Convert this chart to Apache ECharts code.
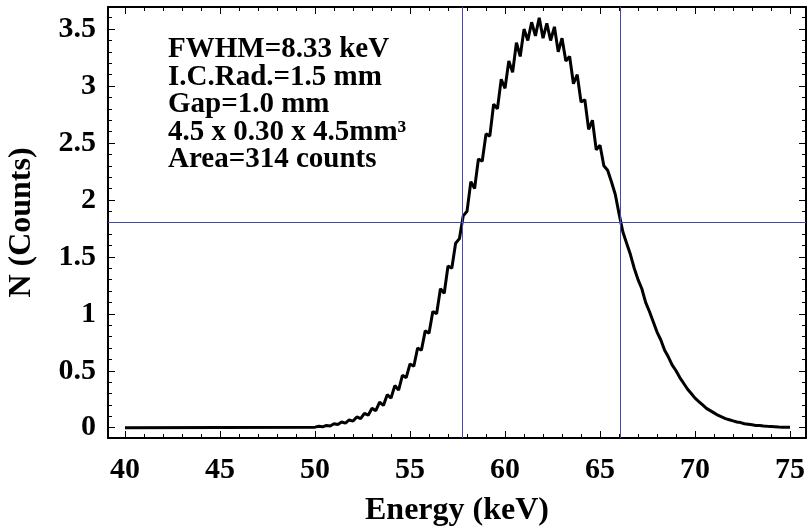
<!DOCTYPE html>
<html>
<head>
<meta charset="utf-8">
<script src="https://cdn.jsdelivr.net/npm/echarts@6/dist/echarts.min.js"></script>
<style>html,body{margin:0;padding:0;background:#fff}#c{width:809px;height:529px}</style>
</head>
<body>
<div id="c"></div>
<script>
// Energy (keV) and counts
const energy = [40.0,
  50.0,50.2,50.4,50.6,50.8,51.0,51.2,51.4,51.6,51.8,52.0,52.2,52.4,52.6,52.8,53.0,53.2,53.4,53.6,53.8,
  54.0,54.2,54.4,54.6,54.8,55.0,55.2,55.4,55.6,55.8,56.0,56.2,56.4,56.6,56.8,57.0,57.2,57.4,57.6,57.8,
  58.0,58.2,58.4,58.6,58.8,59.0,59.2,59.4,59.6,59.8,60.0,60.2,60.4,60.6,60.8,61.0,61.2,61.4,61.6,61.8,
  62.0,62.2,62.4,62.6,62.8,63.0,63.2,63.4,63.6,63.8,64.0,64.2,64.4,64.6,64.8,65.0,65.2,65.4,65.6,65.8,
  66.0,66.2,66.4,66.6,66.8,67.0,67.2,67.4,67.6,67.8,68.0,68.2,68.4,68.6,68.8,69.0,69.2,69.4,69.6,69.8,
  70.0,70.2,70.4,70.6,70.8,71.0,71.2,71.4,71.6,71.8,72.0,72.2,72.4,72.6,72.8,73.0,73.2,73.4,73.6,73.8,
  74.0,74.2,74.4,74.6,74.8,75.0];
const counts = [0,
  0.005,0.012,0.008,0.020,0.015,0.035,0.028,0.050,0.040,0.068,0.058,0.095,0.080,0.125,0.110,0.170,0.150,0.225,0.195,0.290,
  0.260,0.370,0.330,0.460,0.440,0.560,0.540,0.700,0.680,0.850,0.830,1.02,1.00,1.22,1.18,1.42,1.40,1.62,1.66,1.86,
  1.90,2.16,2.10,2.36,2.34,2.58,2.56,2.84,2.80,3.06,2.98,3.22,3.12,3.38,3.26,3.50,3.40,3.56,3.44,3.60,
  3.42,3.55,3.40,3.52,3.30,3.42,3.22,3.26,3.02,3.10,2.86,2.88,2.62,2.70,2.44,2.48,2.30,2.26,2.16,2.05,
  1.88,1.72,1.62,1.52,1.40,1.30,1.22,1.10,1.02,0.93,0.84,0.77,0.68,0.62,0.55,0.50,0.44,0.39,0.34,0.30,
  0.26,0.23,0.20,0.17,0.15,0.13,0.11,0.095,0.08,0.07,0.06,0.05,0.045,0.035,0.03,0.025,0.02,0.02,0.015,0.012,
  0.01,0.008,0.006,0.005,0.004,0.003];
const xTickLabels = [40,45,50,55,60,65,70,75];
const xMinorTicks = [40,41,42,43,44,45,46,47,48,49,50,51,52,53,54,55,56,57,58,59,60,61,62,63,64,65,66,67,68,69,70,71,72,73,74,75];
const yTickLabels = [0,0.5,1,1.5,2,2.5,3,3.5];
const yMinorTicks = [0,0.1,0.2,0.3,0.4,0.5,0.6,0.7,0.8,0.9,1,1.1,1.2,1.3,1.4,1.5,1.6,1.7,1.8,1.9,2,2.1,2.2,2.3,2.4,2.5,2.6,2.7,2.8,2.9,3,3.1,3.2,3.3,3.4,3.5,3.6];
const halfMax = 1.8;
const fwhmEdges = [57.73, 66.05];
const noteLines = ['FWHM=8.33 keV','I.C.Rad.=1.5 mm','Gap=1.0 mm','4.5 x 0.30 x 4.5mm³','Area=314 counts'];

const FONT = "'Liberation Serif', 'Times New Roman', serif";
const X_MIN = 39.105, X_MAX = 75.84, Y_MIN = -0.0904, Y_MAX = 3.694;

function xAx(pos, major, labels, line) {
  return {
    type: 'value', position: pos, min: X_MIN, max: X_MAX,
    axisLine: {show: line, onZero: false, lineStyle: {color: '#000', width: 2}},
    axisTick: {show: true, inside: true, length: major ? 7 : 4, customValues: major ? xTickLabels : xMinorTicks,
      lineStyle: {color: '#000', width: 1}},
    axisLabel: {show: labels, customValues: xTickLabels, color: '#000', fontFamily: FONT, fontWeight: 'bold', fontSize: 30, margin: 17},
    splitLine: {show: false},
    name: labels ? 'Energy (keV)' : '', nameLocation: 'middle', nameGap: 57,
    nameTextStyle: {color: '#000', fontFamily: FONT, fontWeight: 'bold', fontSize: 32}
  };
}
function yAx(pos, major, labels, line) {
  return {
    type: 'value', position: pos, min: Y_MIN, max: Y_MAX,
    axisLine: {show: line, onZero: false, lineStyle: {color: '#000', width: 2}},
    axisTick: {show: true, inside: true, length: major ? 7 : 4, customValues: major ? yTickLabels : yMinorTicks,
      lineStyle: {color: '#000', width: 1}},
    axisLabel: {show: labels, customValues: yTickLabels, color: '#000', fontFamily: FONT, fontWeight: 'bold', fontSize: 30, margin: 12},
    splitLine: {show: false},
    name: labels ? 'N (Counts)' : '', nameLocation: 'middle', nameGap: 70,
    nameTextStyle: {color: '#000', fontFamily: FONT, fontWeight: 'bold', fontSize: 32}
  };
}

const chart = echarts.init(document.getElementById('c'), null, {renderer: 'canvas'});
chart.setOption({
  animation: false,
  backgroundColor: '#fff',
  grid: {left: 108, right: 3, top: 7, bottom: 91, containLabel: false, outerBoundsMode: 'none'},
  title: {
    text: noteLines.join('\n'), left: 168, top: 36, padding: 0,
    textStyle: {color: '#000', fontFamily: FONT, fontWeight: 'bold', fontSize: 29, lineHeight: 27.5}
  },
  xAxis: [xAx('bottom', true, true, true), xAx('bottom', false, false, false), xAx('top', true, false, true), xAx('top', false, false, false)],
  yAxis: [yAx('left', true, true, true), yAx('left', false, false, false), yAx('right', true, false, true), yAx('right', false, false, false)],
  series: [{
    type: 'line', xAxisIndex: 0, yAxisIndex: 0,
    data: energy.map((e, i) => [e, counts[i]]),
    showSymbol: false, symbol: 'none',
    lineStyle: {color: '#000', width: 3},
    markLine: {
      silent: true, symbol: 'none', label: {show: false},
      lineStyle: {color: '#4646b4', width: 1, type: 'solid'},
      data: [{yAxis: halfMax}, {xAxis: fwhmEdges[0]}, {xAxis: fwhmEdges[1]}]
    }
  }]
});
</script>
</body>
</html>
